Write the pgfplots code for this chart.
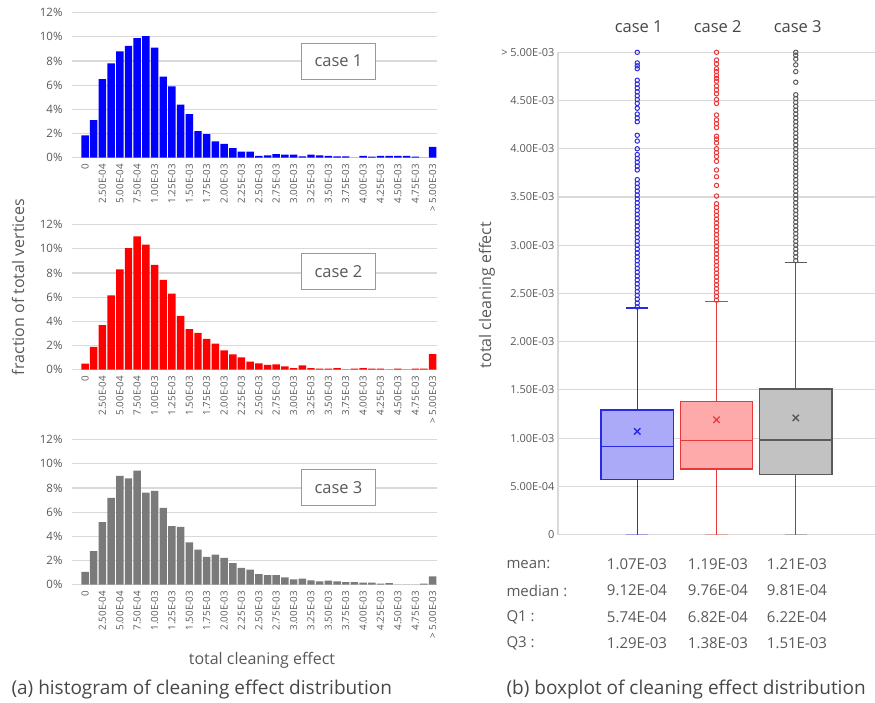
\documentclass[border=0pt]{standalone}
\usepackage{pgfplots}
\usepackage{pgfplotstable}
\pgfplotsset{compat=1.18}
\usepgfplotslibrary{statistics}
\usepackage{fontspec}
\setmainfont{Open Sans}
\definecolor{txt}{HTML}{595959}
\definecolor{gridc}{HTML}{D9D9D9}
\definecolor{bl}{HTML}{0000FF}
\definecolor{rd}{HTML}{FF0000}
\definecolor{gy}{HTML}{7A7A7A}
\definecolor{bline}{HTML}{2A2AE6}
\definecolor{bfill}{HTML}{AAAAF8}
\definecolor{rline}{HTML}{E63A3A}
\definecolor{rfill}{HTML}{FFAAAA}
\definecolor{gline}{HTML}{5A5A5A}
\definecolor{gfill}{HTML}{C2C2C2}

\pgfplotstableread{
bin c1 c2 c3
0 1.85 0.5 1.07
1 3.1 1.9 2.78
2 6.5 3.7 5.17
3 7.8 6.15 7.18
4 8.8 8.3 9.0
5 9.25 10.07 8.8
6 9.9 11.04 9.44
7 10.07 10.35 7.62
8 9.1 8.67 7.76
9 6.7 7.43 6.36
10 5.9 6.3 4.84
11 4.4 4.46 4.79
12 3.6 3.36 3.5
13 2.2 3.05 2.9
14 1.95 2.56 2.31
15 1.35 2.15 2.48
16 1.15 1.6 2.23
17 0.8 1.27 1.79
18 0.5 1.02 1.4
19 0.5 0.66 1.24
20 0.15 0.52 0.88
21 0.2 0.39 0.8
22 0.3 0.44 0.8
23 0.25 0.28 0.6
24 0.25 0.14 0.44
25 0.1 0.36 0.5
26 0.25 0.14 0.36
27 0.2 0.08 0.28
28 0.15 0.08 0.33
29 0.1 0.14 0.28
30 0.1 0.03 0.22
31 0 0.08 0.22
32 0.15 0.14 0.17
33 0.08 0.08 0.17
34 0.15 0.08 0.08
35 0.15 0.02 0.14
36 0.15 0.08 0
37 0.15 0.02 0
38 0.08 0.08 0
39 0 0.08 0.08
40 0.9 1.3 0.69
}\histdata

\pgfplotsset{
  histo/.style={
    scale only axis, width=365pt, height=145pt,
    xmin=-1.5, xmax=40.5, ymin=0, ymax=12,
    ybar, bar width=0.86,
    axis line style={draw=none}, tick style={draw=none},
    ymajorgrids, grid style={gridc, line width=1.1pt},
    ytick={0,2,4,6,8,10,12},
    yticklabel={\pgfmathprintnumber{\tick}\%},
    /pgf/number format/assume math mode=true,
    yticklabel style={font=\fontsize{11.5}{12}\selectfont, text=txt, xshift=-6pt},
    xtick={0,2,...,40},
    xticklabels={0,2.50E-04,5.00E-04,7.50E-04,1.00E-03,1.25E-03,1.50E-03,1.75E-03,2.00E-03,2.25E-03,2.50E-03,2.75E-03,3.00E-03,3.25E-03,3.50E-03,3.75E-03,4.00E-03,4.25E-03,4.50E-03,4.75E-03,> 5.00E-03},
    xticklabel style={rotate=90, anchor=east, font=\fontsize{9.8}{10}\selectfont, text=txt, inner sep=2pt},
    clip=false,
  },
  boxplot/draw/lower whisker/.code={%
    \draw[/pgfplots/boxplot/every whisker/.try]
      (boxplot box cs:\pgfplotsboxplotvalue{lower quartile},0.5)
      -- (boxplot box cs:\pgfplotsboxplotvalue{lower whisker},0.5);
    \draw[/pgfplots/boxplot/every whisker/.try, draw opacity=0.3]
      (boxplot whisker cs:\pgfplotsboxplotvalue{lower whisker},0)
      -- (boxplot whisker cs:\pgfplotsboxplotvalue{lower whisker},1);
  },
}
\tikzset{casebox/.style={draw=black!40, fill=white, line width=0.8pt, font=\fontsize{16.5}{18}\selectfont, text=txt, minimum width=74pt, minimum height=36pt, inner sep=0pt}}

\begin{document}
\begin{tikzpicture}[x=1pt,y=1pt]
\useasboundingbox (0,0) rectangle (875,-702);

% ---- case 1 histogram
\begin{axis}[histo, at={(72pt,-157.7pt)}, anchor=south west]
\addplot[fill=bl, draw=none] table[x=bin, y=c1] {\histdata};
\node[casebox] at (rel axis cs:0.73,0.667) {case 1};
\end{axis}

% ---- case 2 histogram
\begin{axis}[histo, at={(72pt,-369.7pt)}, anchor=south west]
\addplot[fill=rd, draw=none] table[x=bin, y=c2] {\histdata};
\node[casebox] at (rel axis cs:0.73,0.675) {case 2};
\end{axis}

% ---- case 3 histogram
\begin{axis}[histo, at={(72pt,-584.7pt)}, anchor=south west]
\addplot[fill=gy, draw=none] table[x=bin, y=c3] {\histdata};
\node[casebox] at (rel axis cs:0.73,0.672) {case 3};
\end{axis}

% ---- boxplot
\begin{axis}[
  scale only axis, width=317pt, height=482.3pt,
  at={(558pt,-534.6pt)}, anchor=south west,
  xmin=0, xmax=4, ymin=0, ymax=0.005,
  xtick=\empty,
  ytick={0,0.0005,0.001,0.0015,0.002,0.0025,0.003,0.0035,0.004,0.0045,0.005},
  yticklabels={0,5.00E-04,1.00E-03,1.50E-03,2.00E-03,2.50E-03,3.00E-03,3.50E-03,4.00E-03,4.50E-03,> 5.00E-03},
  scaled y ticks=false,
  yticklabel style={font=\fontsize{11}{12}\selectfont, text=txt},
  axis x line=none, axis y line*=left,
  axis line style={gridc, line width=1.1pt, -},
  tick style={draw=none},
  ymajorgrids, grid style={gridc, line width=1.1pt},
  clip=false,
  boxplot/draw direction=y,
  boxplot/every box/.style={line width=1.4pt},
  boxplot/every whisker/.style={line width=1.2pt},
  boxplot/every median/.style={line width=1.6pt},
]
\addplot[boxplot prepared={draw position=1, median=0.000912, lower quartile=0.000574, upper quartile=0.00129, lower whisker=0, upper whisker=0.00235, box extend=0.91, whisker extend=0.28},
  draw=bline, fill=bfill, mark=o, mark size=2.2pt, mark options={draw=bline, fill=none, line width=1pt}]
  table[row sep=\\, y index=0] {y\\ 0.00236\\ 0.00240\\ 0.00244\\ 0.00248\\ 0.00252\\ 0.00256\\ 0.00260\\ 0.00264\\ 0.00268\\ 0.00272\\ 0.00276\\ 0.00280\\ 0.00284\\ 0.00288\\ 0.00292\\ 0.00296\\ 0.00300\\ 0.00304\\ 0.00308\\ 0.00312\\ 0.00316\\ 0.00320\\ 0.00324\\ 0.00328\\ 0.00332\\ 0.00336\\ 0.00340\\ 0.00344\\ 0.00348\\ 0.00352\\ 0.00356\\ 0.00360\\ 0.00364\\ 0.00368\\ 0.00378\\ 0.00382\\ 0.00386\\ 0.00390\\ 0.00394\\ 0.00400\\ 0.00408\\ 0.00414\\ 0.00428\\ 0.00432\\ 0.00436\\ 0.00442\\ 0.00447\\ 0.00451\\ 0.00455\\ 0.00459\\ 0.00463\\ 0.00467\\ 0.00471\\ 0.00483\\ 0.00486\\ 0.00489\\ 0.00500\\ };
\addplot[boxplot prepared={draw position=2, median=0.000976, lower quartile=0.000682, upper quartile=0.00138, lower whisker=0, upper whisker=0.00242, box extend=0.91, whisker extend=0.28},
  draw=rline, fill=rfill, mark=o, mark size=2.2pt, mark options={draw=rline, fill=none, line width=1pt}]
  table[row sep=\\, y index=0] {y\\ 0.00243\\ 0.00247\\ 0.00251\\ 0.00255\\ 0.00259\\ 0.00263\\ 0.00267\\ 0.00271\\ 0.00275\\ 0.00279\\ 0.00283\\ 0.00287\\ 0.00291\\ 0.00295\\ 0.00299\\ 0.00303\\ 0.00307\\ 0.00311\\ 0.00315\\ 0.00319\\ 0.00323\\ 0.00327\\ 0.00331\\ 0.00335\\ 0.00339\\ 0.00343\\ 0.00351\\ 0.00362\\ 0.00371\\ 0.00378\\ 0.00387\\ 0.00392\\ 0.00396\\ 0.00400\\ 0.00406\\ 0.00410\\ 0.00413\\ 0.00422\\ 0.00426\\ 0.00430\\ 0.00435\\ 0.00447\\ 0.00451\\ 0.00457\\ 0.00461\\ 0.00465\\ 0.00470\\ 0.00473\\ 0.00476\\ 0.00480\\ 0.00483\\ 0.00488\\ 0.00492\\ 0.00500\\ };
\addplot[boxplot prepared={draw position=3, median=0.000981, lower quartile=0.000622, upper quartile=0.00151, lower whisker=0, upper whisker=0.00282, box extend=0.91, whisker extend=0.28},
  draw=gline, fill=gfill, mark=o, mark size=2.2pt, mark options={draw=gline, fill=none, line width=1pt}]
  table[row sep=\\, y index=0] {y\\ 0.00284\\ 0.00288\\ 0.00292\\ 0.00296\\ 0.00300\\ 0.00304\\ 0.00308\\ 0.00312\\ 0.00316\\ 0.00320\\ 0.00324\\ 0.00328\\ 0.00332\\ 0.00336\\ 0.00340\\ 0.00344\\ 0.00348\\ 0.00352\\ 0.00356\\ 0.00360\\ 0.00364\\ 0.00368\\ 0.00372\\ 0.00376\\ 0.00380\\ 0.00384\\ 0.00388\\ 0.00392\\ 0.00396\\ 0.00400\\ 0.00404\\ 0.00408\\ 0.00412\\ 0.00416\\ 0.00420\\ 0.00424\\ 0.00428\\ 0.00432\\ 0.00436\\ 0.00440\\ 0.00444\\ 0.00448\\ 0.00452\\ 0.00456\\ 0.00469\\ 0.00480\\ 0.00487\\ 0.00493\\ 0.00497\\ 0.00500\\ };
\addplot[only marks, mark=x, mark size=4.5pt, mark options={draw=bline, line width=1.3pt}] coordinates {(1,0.00107)};
\addplot[only marks, mark=x, mark size=4.5pt, mark options={draw=rline, line width=1.3pt}] coordinates {(2,0.00119)};
\addplot[only marks, mark=x, mark size=4.5pt, mark options={draw=gline, line width=1.3pt}] coordinates {(3,0.00121)};
\end{axis}

% ---- texts
\node[rotate=90, font=\fontsize{16}{18}\selectfont, text=txt] at (18,-287) {fraction of total vertices};
\node[font=\fontsize{16}{18}\selectfont, text=txt] at (262,-660) {total cleaning effect};
\node[anchor=west, font=\fontsize{19}{21}\selectfont, text=txt!80!black] at (8,-690) {(a) histogram of cleaning effect distribution};
\node[rotate=90, font=\fontsize{16}{18}\selectfont, text=txt] at (487,-295) {total cleaning effect};
\node[anchor=west, font=\fontsize{19}{21}\selectfont, text=txt!80!black] at (503,-690) {(b) boxplot of cleaning effect distribution};

\foreach \x/\t in {638.7/case 1, 717.7/case 2, 797.7/case 3}
  \node[font=\fontsize{16.5}{18}\selectfont, text=txt!80!black] at (\x,-27) {\t};

\foreach \y/\lab/\a/\b/\c in {-564/mean:/1.07E-03/1.19E-03/1.21E-03, -590.5/median :/9.12E-04/9.76E-04/9.81E-04, -617/Q1 :/5.74E-04/6.82E-04/6.22E-04, -643.5/Q3 :/1.29E-03/1.38E-03/1.51E-03}{
  \node[anchor=west, font=\fontsize{15}{17}\selectfont, text=txt] at (503,\y) {\lab};
  \node[font=\fontsize{15}{17}\selectfont, text=txt] at (637,\y) {\a};
  \node[font=\fontsize{15}{17}\selectfont, text=txt] at (718,\y) {\b};
  \node[font=\fontsize{15}{17}\selectfont, text=txt] at (797,\y) {\c};
}
\end{tikzpicture}
\end{document}
